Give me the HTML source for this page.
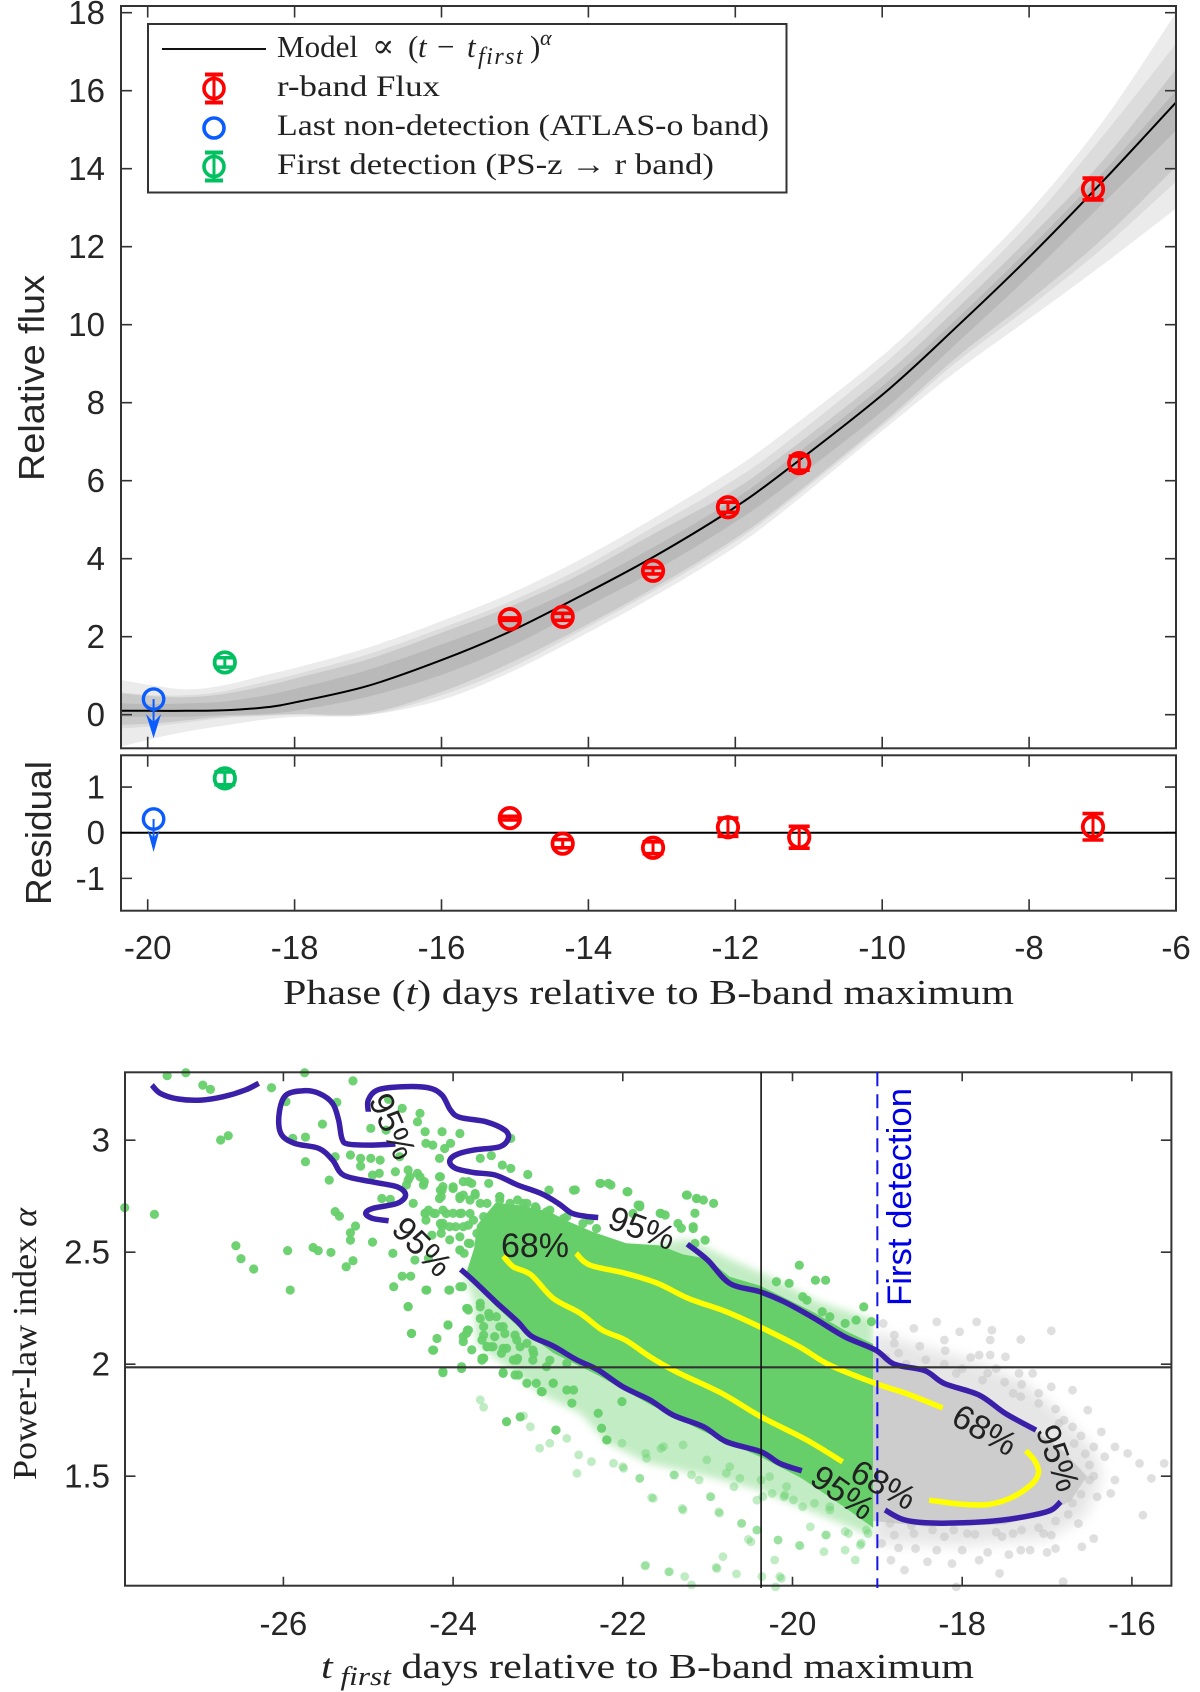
<!DOCTYPE html>
<html lang="en">
<head>
<meta charset="utf-8">
<title>Power-law rise fit of r-band flux</title>
<style>
html,body{margin:0;padding:0;background:#fff}
svg{display:block}
.tick{font-family:"Liberation Sans",sans-serif;font-size:33px;fill:#262626}
.serif{font-family:"Liberation Serif","DejaVu Serif",serif;fill:#222}
.sans{font-family:"Liberation Sans",sans-serif}
.pct{font-family:"Liberation Sans",sans-serif;font-size:34px;fill:#222}
</style>
</head>
<body>
<svg id="fig" xmlns="http://www.w3.org/2000/svg" width="1200" height="1692" viewBox="0 0 1200 1692">
<defs>
<clipPath id="clipTop"><rect x="121" y="6" width="1055" height="742"/></clipPath>
<clipPath id="clipGreen"><rect x="125" y="1072" width="748.5" height="514"/></clipPath>
<clipPath id="clipGray"><rect x="873.5" y="1072" width="298" height="514"/></clipPath>
<filter id="softGreen" x="-20%" y="-20%" width="140%" height="140%"><feGaussianBlur stdDeviation="4"/></filter>
<filter id="softGray" x="-20%" y="-20%" width="140%" height="140%"><feGaussianBlur stdDeviation="7"/></filter>
</defs>

<g id="topBands" clip-path="url(#clipTop)"></g>
<g id="topModel" clip-path="url(#clipTop)"></g>
<g id="topAxes"></g>
<g id="topMarks"></g>
<g id="resAxes"></g>
<g id="resMarks"></g>

<text x="44" y="378" transform="rotate(-90 44 378)" text-anchor="middle" class="sans" font-size="36" fill="#262626" textLength="206" lengthAdjust="spacingAndGlyphs">Relative flux</text>
<text x="51" y="833" transform="rotate(-90 51 833)" text-anchor="middle" class="sans" font-size="36" fill="#262626" textLength="144" lengthAdjust="spacingAndGlyphs">Residual</text>
<text x="283" y="1004" class="serif" font-size="35" textLength="731" lengthAdjust="spacingAndGlyphs">Phase (<tspan font-style="italic">t</tspan>) days relative to B-band maximum</text>

<g>
<rect x="148" y="24" width="638.5" height="168.5" fill="#fff" stroke="#333" stroke-width="2"/>
<line x1="162" y1="49" x2="266" y2="49" stroke="#111" stroke-width="2"/>
<text x="277" y="57" class="serif" font-size="31">Model<tspan x="372" font-size="33">∝</tspan><tspan x="408">(</tspan><tspan x="418" font-style="italic">t</tspan><tspan x="437">−</tspan><tspan x="467" font-style="italic">t</tspan><tspan x="478" font-style="italic" font-size="24" dy="7" letter-spacing="1.5">first</tspan><tspan x="530" dy="-7">)</tspan><tspan x="540" font-style="italic" font-size="22" dy="-12">α</tspan></text>
<g fill="none" stroke="#ff0000">
<circle cx="214" cy="88.5" r="10" stroke-width="3.6"/><path d="M214 74V103" stroke-width="3"/><path d="M205 74.5H223M205 102.5H223" stroke-width="4"/>
</g>
<text x="277" y="96" class="serif" font-size="30" textLength="163" lengthAdjust="spacingAndGlyphs">r-band Flux</text>
<circle cx="214" cy="128" r="10" fill="none" stroke="#0a5cff" stroke-width="3.6"/>
<text x="277" y="135" class="serif" font-size="30" textLength="492" lengthAdjust="spacingAndGlyphs">Last non-detection (ATLAS-o band)</text>
<g fill="none" stroke="#00c060">
<circle cx="214" cy="166.5" r="10" stroke-width="3.6"/><path d="M214 152V181" stroke-width="3"/><path d="M205 152.5H223M205 180.5H223" stroke-width="4"/>
</g>
<text x="277" y="174" class="serif" font-size="30" textLength="437" lengthAdjust="spacingAndGlyphs">First detection (PS-z → r band)</text>
</g>

<g id="fringe"></g>
<g id="dense"></g>
<g id="dots"></g>
<g id="contours"></g>
<g id="lowAxes"></g>

<g>
<text class="pct" text-anchor="middle" transform="translate(382 1131) rotate(66)">95%</text>
<text class="pct" text-anchor="middle" transform="translate(414 1255) rotate(45)">95%</text>
<text class="pct" text-anchor="middle" transform="translate(535 1257)">68%</text>
<text class="pct" text-anchor="middle" transform="translate(638 1239) rotate(20)">95%</text>
<text class="pct" text-anchor="middle" transform="translate(979 1440) rotate(30)">68%</text>
<text class="pct" text-anchor="middle" transform="translate(1047 1462) rotate(70)">95%</text>
<text class="pct" text-anchor="middle" transform="translate(878 1495) rotate(28)">68%</text>
<text class="pct" text-anchor="middle" transform="translate(836 1502) rotate(35)">95%</text>
</g>

<text x="911" y="1197" transform="rotate(-90 911 1197)" text-anchor="middle" class="sans" font-size="34" fill="#0000e6" textLength="218" lengthAdjust="spacingAndGlyphs">First detection</text>
<text x="36" y="1344" transform="rotate(-90 36 1344)" text-anchor="middle" class="serif" font-size="34" textLength="272" lengthAdjust="spacingAndGlyphs">Power-law index <tspan font-style="italic">α</tspan></text>
<text x="321" y="1678" class="serif" font-size="35" textLength="653" lengthAdjust="spacingAndGlyphs"><tspan font-style="italic">t</tspan><tspan font-style="italic" font-size="26" dy="7"> first</tspan><tspan dy="-7"> days relative to B-band maximum</tspan></text>

<script>
var NS = 'http://www.w3.org/2000/svg';

/* ---------- top panel data ---------- */
var phaseTicks = [-20, -18, -16, -14, -12, -10, -8, -6];
var phaseTickLabels = ['-20', '-18', '-16', '-14', '-12', '-10', '-8', '-6'];
var fluxTicks = [0, 2, 4, 6, 8, 10, 12, 14, 16, 18];
var fluxTickLabels = ['0', '2', '4', '6', '8', '10', '12', '14', '16', '18'];
var residualTicks = [-1, 0, 1];
var residualTickLabels = ['-1', '0', '1'];

var modelPhase = [-20.36, -19.9, -19.47, -19, -18.39, -17.93, -17, -16, -15.07, -14.11, -13.11, -12.1, -11.39, -10, -9, -8, -7, -6];
var modelFlux = [0.10, 0.10, 0.10, 0.11, 0.19, 0.34, 0.74, 1.40, 2.13, 3.04, 4.05, 5.20, 6.15, 8.20, 9.92, 11.73, 13.67, 15.70];
var bandLightUpper = [0.89, 0.74, 0.65, 0.74, 1.02, 1.23, 1.72, 2.40, 3.10, 3.98, 5.04, 6.20, 7.15, 9.20, 10.97, 12.90, 15.20, 18.0];
var bandPaleUpper = [0.57, 0.50, 0.50, 0.59, 0.85, 1.06, 1.55, 2.22, 2.90, 3.75, 4.82, 5.92, 6.85, 8.96, 10.70, 12.60, 14.83, 17.2];
var bandMidUpper = [0.55, 0.47, 0.45, 0.52, 0.74, 0.96, 1.42, 2.10, 2.77, 3.60, 4.64, 5.67, 6.60, 8.65, 10.38, 12.22, 14.20, 16.55];
var bandCoreUpper = [0.29, 0.27, 0.29, 0.33, 0.50, 0.69, 1.15, 1.80, 2.47, 3.30, 4.30, 5.42, 6.37, 8.42, 10.12, 11.95, 13.90, 16.0];
var bandCoreLower = [-0.05, -0.05, -0.05, -0.01, 0.02, 0.12, 0.46, 1.02, 1.74, 2.68, 3.68, 4.82, 5.75, 7.78, 9.50, 11.25, 13.10, 14.98];
var bandMidLower = [-0.26, -0.22, -0.14, -0.05, -0.01, 0.02, 0.04, 0.59, 1.32, 2.22, 3.25, 4.40, 5.35, 7.47, 9.14, 10.62, 12.20, 14.05];
var bandPaleLower = [-0.35, -0.29, -0.20, -0.09, -0.03, 0.00, 0.00, 0.50, 1.19, 2.14, 3.17, 4.32, 5.28, 7.40, 9.02, 10.45, 11.96, 13.67];
var bandLightLower = [-0.82, -0.60, -0.43, -0.29, -0.12, -0.05, -0.01, 0.38, 1.08, 2.00, 3.03, 4.18, 5.15, 7.28, 8.79, 10.15, 11.53, 12.98];

var redPhase = [-15.07, -14.35, -13.12, -12.1, -11.13, -7.13];
var redFlux = [2.45, 2.51, 3.69, 5.32, 6.45, 13.48];
var redFluxErr = [0.03, 0.09, 0.08, 0.13, 0.18, 0.28];
var redResidual = [0.32, -0.24, -0.33, 0.12, -0.10, 0.13];
var redResidualErr = [0.04, 0.09, 0.13, 0.20, 0.24, 0.29];
var greenPhase = [-18.95];
var greenFlux = [1.34];
var greenFluxErr = [0.12];
var greenResidual = [1.19];
var greenResidualErr = [0.14];
var bluePhase = [-19.92];
var blueFlux = [0.40];
var blueResidual = [0.30];

/* ---------- bottom panel data ---------- */
var tfirstTicks = [-26, -24, -22, -20, -18, -16];
var tfirstTickLabels = ['-26', '-24', '-22', '-20', '-18', '-16'];
var alphaTicks = [1.5, 2, 2.5, 3];
var alphaTickLabels = ['1.5', '2', '2.5', '3'];
var bestTfirst = [-20.37];
var bestAlpha = [1.986];
var firstDetectionPhase = [-19.0];

var contour95Arc = [[-27.55,3.246],[-27.45,3.209],[-27.24,3.184],[-26.97,3.179],[-26.71,3.194],[-26.45,3.224],[-26.29,3.254]];
var contour95Loop = [[-24.68,2.983],[-24.97,2.978],[-25.24,2.983],[-25.31,3.008],[-25.35,3.090],[-25.42,3.164],[-25.58,3.209],[-25.76,3.221],[-25.97,3.201],[-26.05,3.120],[-26.03,3.030],[-25.87,2.986],[-25.58,2.963],[-25.42,2.911],[-25.29,2.844],[-24.97,2.815],[-24.66,2.792],[-24.56,2.755],[-24.66,2.718],[-24.95,2.695],[-25.03,2.673],[-24.95,2.651],[-24.76,2.640]];
var contour95Upper = [[-25.00,3.127],[-25.00,3.179],[-24.89,3.224],[-24.60,3.239],[-24.29,3.234],[-24.13,3.201],[-24.03,3.134],[-23.92,3.102],[-23.61,3.082],[-23.39,3.045],[-23.35,3.008],[-23.45,2.971],[-23.76,2.956],[-23.97,2.934],[-24.04,2.904],[-23.97,2.874],[-23.76,2.856],[-23.50,2.844],[-23.24,2.800],[-22.97,2.763],[-22.76,2.718],[-22.61,2.676],[-22.45,2.661],[-22.29,2.655]];
var contour95Lower = [[-23.91,2.423],[-23.76,2.373],[-23.50,2.279],[-23.24,2.190],[-23.08,2.126],[-22.82,2.081],[-22.55,2.021],[-22.29,1.974],[-22.00,1.899],[-21.68,1.840],[-21.41,1.773],[-21.05,1.721],[-20.78,1.654],[-20.37,1.609],[-20.15,1.557],[-19.89,1.524]];
var contour95Right = [[-21.24,2.536],[-21.00,2.465],[-20.74,2.361],[-20.38,2.323],[-20.10,2.279],[-19.74,2.204],[-19.38,2.122],[-19.02,2.063],[-18.80,2.000],[-18.44,1.971],[-18.21,1.914],[-17.80,1.862],[-17.49,1.780],[-17.13,1.706]];
var contour95Tip = [[-18.91,1.349],[-18.70,1.307],[-18.43,1.292],[-17.98,1.292],[-17.53,1.304],[-17.17,1.326],[-16.95,1.349],[-16.84,1.386]];
var contour68Lower = [[-23.41,2.483],[-23.29,2.435],[-23.08,2.398],[-22.82,2.294],[-22.50,2.227],[-22.24,2.152],[-21.97,2.108],[-21.68,2.033],[-21.37,1.966],[-20.83,1.869],[-20.37,1.765],[-19.83,1.661],[-19.41,1.564]];
var contour68Upper = [[-22.55,2.495],[-22.39,2.443],[-21.97,2.406],[-21.59,2.361],[-21.23,2.294],[-20.78,2.234],[-20.37,2.164],[-19.92,2.078],[-19.56,1.996],[-19.02,1.914],[-18.66,1.869],[-18.23,1.805]];
var contour68Tip = [[-18.39,1.393],[-17.98,1.374],[-17.67,1.375],[-17.40,1.408],[-17.17,1.468],[-17.10,1.520],[-17.15,1.572],[-17.25,1.614]];

var greenDense = [[-23.85,2.40],[-23.75,2.52],[-23.72,2.62],[-23.50,2.72],[-23.21,2.71],[-22.86,2.68],[-22.66,2.64],[-22.35,2.59],[-21.96,2.54],[-21.56,2.53],[-21.29,2.49],[-21.0,2.47],[-20.74,2.39],[-20.38,2.35],[-19.74,2.23],[-19.38,2.15],[-19.05,2.09],[-19.05,1.27],[-19.38,1.36],[-19.89,1.49],[-20.37,1.585],[-21.05,1.70],[-21.68,1.82],[-22.29,1.95],[-22.82,2.05],[-23.24,2.17],[-23.50,2.26]];
var grayDense = [[-19.05,2.08],[-18.80,2.0],[-18.44,1.97],[-18.21,1.91],[-17.80,1.86],[-17.49,1.78],[-17.13,1.70],[-16.80,1.61],[-16.53,1.50],[-16.72,1.39],[-16.95,1.345],[-17.50,1.285],[-18.40,1.275],[-19.05,1.30]];
var greenFringe = [[-23.9,2.42],[-23.76,2.29],[-23.72,2.09],[-23.41,2.0],[-22.98,1.87],[-22.5,1.78],[-22.19,1.65],[-21.72,1.56],[-21.01,1.50],[-20.42,1.44],[-19.83,1.35],[-19.05,1.23],[-19.05,2.2],[-19.7,2.28],[-20.2,2.38],[-20.74,2.47],[-21.24,2.56],[-22,2.5]];
var grayFringe = [[-19.05,2.15],[-18.5,2.08],[-17.9,2.02],[-17.3,1.93],[-16.9,1.8],[-16.45,1.62],[-16.35,1.5],[-16.55,1.32],[-17,1.22],[-18,1.19],[-19.05,1.2]];

var greenDots = [[-27.37,3.288],[-27.15,3.301],[-26.95,3.246],[-26.86,3.227],[-25.75,3.301],[-25.18,3.265],[-26.14,3.234],[-26.74,3.001],[-26.65,3.02],[-27.87,2.699],[-27.52,2.669],[-26.56,2.529],[-26.5,2.471],[-26.35,2.425],[-25.95,2.507],[-25.92,2.331],[-25.65,2.521],[-25.59,2.507],[-25.44,2.499],[-25.26,2.435],[-25.18,2.462],[-24.95,2.545],[-25.21,2.554],[-25.21,2.587],[-25.15,2.617],[-25.39,2.681],[-25.34,2.661],[-25.46,2.822],[-25.74,2.904],[-25.89,3.008],[-25.74,3.014],[-25.54,3.072],[-25.97,3.172],[-25.37,3.169],[-24.76,3.182],[-24.6,3.142],[-24.39,3.12],[-24.42,3.082],[-24.97,3.053],[-24.79,3.045],[-24.33,3.038],[-24.13,3.038],[-23.92,3.03],[-24.32,2.986],[-24.24,2.978],[-24.1,2.963],[-24.03,2.986],[-24.63,2.926],[-24.16,2.919],[-23.68,2.919],[-23.55,2.931],[-25.21,2.934],[-25.09,2.919],[-24.97,2.919],[-24.86,2.911],[-25.39,2.926],[-25.09,2.884],[-24.68,2.859],[-24.53,2.867],[-24.95,2.844],[-24.87,2.852],[-24.53,2.822],[-24.42,2.852],[-24.34,2.815],[-24.16,2.837],[-24,2.785],[-23.82,2.815],[-23.58,2.807],[-24.13,2.777],[-24.16,2.74],[-23.92,2.748],[-23.42,2.889],[-23.32,2.874],[-23.12,2.847],[-22.87,2.777],[-23.32,3.008],[-24.74,2.736],[-24.84,2.74],[-24.47,2.718],[-24.29,2.688],[-24.08,2.673],[-23.97,2.614],[-24.13,2.614],[-24.32,2.643],[-24.71,2.495],[-24.45,2.465],[-24.6,2.393],[-24.5,2.393],[-24.7,2.346],[-24.32,2.331],[-24.53,2.257],[-24.06,2.175],[-24.49,2.137],[-24.19,2.115],[-24.24,2.063],[-24.12,1.962],[-23.9,1.981],[-24.05,2.331],[-23.89,2.346],[-23.83,2.249],[-23.68,2.204],[-23.83,2.152],[-23.66,2.018],[-23.55,2.078],[-23.39,2.137],[-23.24,2.026],[-22.95,1.877],[-23.37,1.743],[-23.21,1.765],[-22.79,1.706],[-22.26,2.807],[-22.14,2.8],[-21.95,2.77],[-21.24,2.755],[-21.13,2.74],[-21.55,2.673],[-21.82,2.71],[-22.58,2.777],[-22.39,2.643],[-23.45,2.748],[-23.24,2.733],[-23.03,2.703],[-23.76,2.643],[-23.6,2.539],[-23.87,2.495],[-20.19,2.368],[-19.92,2.442],[-19.73,2.375],[-19.61,2.375],[-19.16,2.256],[-19.07,2.19],[-19.38,2.182],[-19.56,2.212],[-19.88,2.301],[-20.04,2.361],[-19.83,2.286],[-19.65,2.234],[-19.25,2.197],[-24.51,2.837],[-24.39,2.837],[-24.55,2.80],[-24.35,2.80],[-24.15,2.837],[-24.12,2.793],[-24.14,2.748],[-24.0,2.785],[-23.88,2.815],[-23.78,2.807],[-23.92,2.74],[-23.74,2.755],[-24.33,2.674],[-24.23,2.674],[-24.12,2.629],[-24.0,2.674],[-23.9,2.674],[-23.82,2.621],[-23.92,2.569],[-23.82,2.54],[-24.14,2.584],[-24.04,2.555],[-24.29,2.473],[-23.92,2.51],[-23.92,2.346],[-24.04,2.331],[-24.31,2.331],[-24.53,2.257],[-24.06,2.175],[-24.49,2.138],[-24.23,2.063],[-23.68,2.718],[-23.45,2.748],[-23.33,2.718],[-23.17,2.718],[-23.02,2.696],[-22.86,2.688],[-22.66,2.659],[-23.64,2.659],[-23.57,2.6],[-23.68,2.272],[-23.82,2.242],[-23.58,2.227],[-23.64,2.168],[-23.49,2.212],[-23.41,2.168],[-23.84,2.138],[-23.66,2.108],[-23.53,2.078],[-23.37,2.071],[-23.25,2.108],[-23.13,2.093],[-23.66,2.026],[-23.29,2.019],[-23.05,2.048],[-22.9,1.989],[-24.12,1.967],[-23.9,1.989],[-23.41,1.959],[-23.27,1.952],[-23.02,1.915],[-22.82,1.915],[-22.58,1.885],[-22.17,2.807],[-22.27,2.807],[-22.56,2.778],[-21.94,2.77],[-21.8,2.703],[-21.56,2.674],[-21.31,2.607],[-21.17,2.614],[-21.25,2.755],[-21.13,2.74],[-21.15,2.674],[-23.88,2.101],[-23.78,2.064],[-23.6,2.079],[-23.43,2.049],[-23.64,2.027],[-23.41,1.963],[-23.23,1.952],[-23.13,1.915],[-22.96,1.878],[-22.82,1.915],[-22.66,1.885],[-22.6,1.826],[-22.25,1.714],[-22.29,1.781],[-22.01,1.833],[-22.19,1.662],[-23.88,2.614],[-23.92,2.673],[-23.8,2.673],[-23.8,2.733],[-23.6,2.718],[-23.45,2.733],[-23.72,2.584],[-23.8,2.539],[-23.92,2.51],[-23.7,2.48],[-24.25,2.576],[-24.15,2.628],[-24.04,2.614],[-24.12,2.688],[-24.21,2.673],[-24.33,2.673],[-23.88,2.755],[-23.74,2.762],[-24.15,2.777],[-24.0,2.792],[-23.13,2.718],[-22.9,2.68],[-22.7,2.65],[-22.47,2.628],[-22.31,2.606],[-21.88,2.673],[-21.8,2.71],[-21.5,2.666],[-21.35,2.628],[-21.17,2.606],[-21.03,2.554],[-21.05,2.733],[-20.93,2.718],[-21.15,2.539],[-23.84,2.249],[-23.68,2.256],[-23.57,2.212],[-23.45,2.167],[-23.27,2.13],[-23.51,2.123],[-23.64,2.13],[-23.88,2.123],[-23.82,2.152],[-23.6,2.078],[-23.41,2.071],[-23.21,2.078],[-23.06,2.063],[-23.64,2.026],[-23.25,2.018],[-23.06,2.018],[-22.86,2.018],[-22.66,2.004]];
var greenFaintDots = [[-23.09,1.721],[-23.37,1.744],[-23.17,1.769],[-23.64,1.808],[-23.68,1.841],[-22.98,1.625],[-22.86,1.647],[-22.78,1.707],[-22.66,1.669],[-22.52,1.595],[-22.54,1.513],[-22.37,1.565],[-22.11,1.558],[-21.99,1.535],[-21.8,1.491],[-22.01,1.647],[-21.72,1.58],[-21.52,1.632],[-21.4,1.506],[-21.19,1.506],[-21.29,1.64],[-21.01,1.573],[-21.64,1.401],[-21.29,1.349],[-20.97,1.409],[-20.86,1.335],[-20.6,1.29],[-20.42,1.26],[-20.52,1.218],[-20.35,1.409],[-20.09,1.416],[-20.17,1.215],[-19.91,1.189],[-19.6,1.238],[-19.38,1.253],[-19.26,1.126],[-19.19,1.201],[-19.13,1.26],[-19.56,1.364],[-19.74,1.379],[-19.99,1.394],[-20.62,1.491],[-20.78,1.513],[-20.27,1.498],[-20.07,1.454],[-21.74,1.099],[-21.45,1.074],[-21.19,1.015],[-20.9,1.093],[-21.27,1.052],[-20.66,1.064],[-20.36,1.052],[-20.15,1.052],[-20.21,1.126],[-20.82,1.141],[-21.8,1.49],[-21.66,1.405],[-21.55,1.624],[-21.3,1.356],[-21.39,1.505],[-20.96,1.408],[-20.87,1.341],[-20.69,1.453],[-20.6,1.289],[-20.42,1.259],[-20.49,1.207],[-20.17,1.215],[-19.92,1.192],[-19.63,1.163],[-19.38,1.17],[-19.2,1.192],[-21.46,1.073],[-21.73,1.103],[-20.89,1.088],[-20.2,1.006],[-20.13,1.044],[-20.42,1.393],[-20.1,1.408],[-19.88,1.364],[-19.56,1.349],[-19.11,1.244],[-19.34,1.244],[-19.79,1.274],[-19.61,1.237],[-22,1.542],[-22.18,1.661],[-21.73,1.602],[-21.1,1.483],[-20.74,1.542],[-20.37,1.483],[-20.24,1.423]];
var grayDots = [[-18.3,2.189],[-17.83,2.189],[-17.65,2.152],[-17.31,2.11],[-16.95,2.149],[-18.03,2.145],[-18.57,2.16],[-18.8,2.13],[-18.21,2.108],[-17.67,2.108],[-18.8,2.093],[-17.8,2.041],[-17.49,2.033],[-17.67,2.041],[-17.17,1.959],[-17.33,1.959],[-17.76,1.929],[-18.07,1.959],[-17.4,1.87],[-17.31,1.855],[-16.95,1.899],[-16.7,1.884],[-17.1,1.825],[-16.52,1.795],[-16.86,1.736],[-16.36,1.698],[-16.68,1.646],[-16.45,1.631],[-16.2,1.631],[-16.05,1.602],[-16.32,1.587],[-15.91,1.557],[-15.62,1.557],[-15.77,1.49],[-16.2,1.483],[-16.5,1.483],[-16.25,1.423],[-16.41,1.408],[-15.87,1.326],[-16.63,1.289],[-17.04,1.244],[-16.95,1.237],[-16.45,1.222],[-16.59,1.185],[-17.4,1.244],[-17.53,1.23],[-17.94,1.244],[-18.21,1.23],[-18.57,1.244],[-18.8,1.237],[-18.55,1.177],[-18.41,1.118],[-18.12,1.11],[-17.8,1.125],[-17.56,1.066],[-18.68,1.081],[-18.84,1.125],[-16.9,1.177],[-16.81,1.029],[-18.07,1.006],[-17.31,1.17],[-18.93,2.182],[-18.66,2.0],[-18.43,2.02],[-18.21,2.0],[-18.0,1.98],[-17.7,1.96],[-17.5,1.92],[-17.3,1.91],[-17.1,1.87],[-17.6,1.98],[-17.9,2.03],[-18.2,2.06],[-18.5,2.08],[-18.75,2.05],[-18.9,2.03],[-16.9,1.8],[-16.8,1.75],[-16.7,1.72],[-16.6,1.68],[-16.55,1.6],[-16.5,1.55],[-16.45,1.5],[-16.6,1.42],[-16.7,1.38],[-16.75,1.33],[-16.9,1.3],[-17.1,1.27],[-17.3,1.26],[-17.6,1.25],[-17.85,1.24],[-18.1,1.26],[-18.35,1.26],[-18.6,1.28],[-18.85,1.29],[-18.95,1.2],[-18.75,1.18],[-18.3,1.17],[-18.0,1.17],[-17.7,1.16],[-17.45,1.15],[-17.2,1.17],[-17.0,1.16]];

/* ---------- axis functions ---------- */
function xPhase(t) { return 1176 + (t + 6) * 73.45; }
function yFlux(f) { return 714.7 - f * 39; }
function yRes(r) { return 832.7 - r * 45.67; }
function xFirst(t) { return 792.5 + (t + 20) * 84.85; }
function yAlpha(a) { return 1364.2 - (a - 2) * 224; }

function make(tag, parent, attrs) {
  var el = document.createElementNS(NS, tag);
  for (var k in attrs) { el.setAttribute(k, attrs[k]); }
  parent.appendChild(el);
  return el;
}
function ptsString(pairs, fx, fy) {
  return pairs.map(function (p) { return fx(p[0]).toFixed(1) + ',' + fy(p[1]).toFixed(1); }).join(' ');
}
function smoothCurve(pairs, fx, fy, start) {
  var p = pairs.map(function (q) { return [fx(q[0]), fy(q[1])]; });
  var d = start + p[0][0].toFixed(1) + ' ' + p[0][1].toFixed(1);
  for (var i = 0; i < p.length - 1; i++) {
    var a = p[Math.max(i - 1, 0)], b = p[i], c = p[i + 1], e = p[Math.min(i + 2, p.length - 1)];
    d += 'C' + (b[0] + (c[0] - a[0]) / 6).toFixed(1) + ' ' + (b[1] + (c[1] - a[1]) / 6).toFixed(1) + ' ' +
         (c[0] - (e[0] - b[0]) / 6).toFixed(1) + ' ' + (c[1] - (e[1] - b[1]) / 6).toFixed(1) + ' ' +
         c[0].toFixed(1) + ' ' + c[1].toFixed(1);
  }
  return d;
}
function smoothPath(pairs, fx, fy) { return smoothCurve(pairs, fx, fy, 'M'); }
function zipXY(xs, ys) { return xs.map(function (x, i) { return [x, ys[i]]; }); }

/* ---------- top panel bands and model ---------- */
var bandsGroup = document.getElementById('topBands');
function drawBand(upper, lower, color, name) {
  var d = smoothCurve(zipXY(modelPhase, upper), xPhase, yFlux, 'M') +
          smoothCurve(zipXY(modelPhase, lower).reverse(), xPhase, yFlux, 'L') + 'Z';
  var el = make('path', bandsGroup, { d: d, fill: color });
  
  
}
drawBand(bandLightUpper, bandLightLower, '#ebebeb', 'model-band-light');
drawBand(bandPaleUpper, bandPaleLower, '#dcdcdc', 'model-band-pale');
drawBand(bandMidUpper, bandMidLower, '#c9c9c9', 'model-band-mid');
drawBand(bandCoreUpper, bandCoreLower, '#b9b9b9', 'model-band-core');

var modelEl = make('path', document.getElementById('topModel'), {
  d: smoothPath(zipXY(modelPhase, modelFlux), xPhase, yFlux), fill: 'none', stroke: '#000', 'stroke-width': 2
});



/* ---------- axes ---------- */
function frame(parent, l, t, r, b, name) {
  var el = make('rect', parent, { x: l, y: t, width: r - l, height: b - t, fill: 'none', stroke: '#333', 'stroke-width': 2 });
  
  
}
function xTicks(parent, values, fx, t, b, len) {
  values.forEach(function (v) {
    var x = fx(v);
    var el = make('path', parent, { d: 'M' + x + ' ' + t + 'v' + len + 'M' + x + ' ' + b + 'v-' + len, stroke: '#333', 'stroke-width': 1.6, fill: 'none' });
    
    
  });
}
function yTicks(parent, values, fy, l, r, len) {
  values.forEach(function (v) {
    var y = fy(v);
    var el = make('path', parent, { d: 'M' + l + ' ' + y + 'h' + len + 'M' + r + ' ' + y + 'h-' + len, stroke: '#333', 'stroke-width': 1.6, fill: 'none' });
    
    
  });
}
function xLabels(parent, values, labels, fx, baseline) {
  values.forEach(function (v, i) {
    var el = make('text', parent, { x: fx(v), y: baseline, 'text-anchor': 'middle', 'class': 'tick' });
    el.textContent = labels[i];
    
    
  });
}
function yLabels(parent, values, labels, fy, right) {
  values.forEach(function (v, i) {
    var el = make('text', parent, { x: right, y: fy(v) + 11.5, 'text-anchor': 'end', 'class': 'tick' });
    el.textContent = labels[i];
    
    
  });
}

var topAxes = document.getElementById('topAxes');
frame(topAxes, 121, 6, 1176, 748.3, 'flux-axes-frame');
xTicks(topAxes, phaseTicks, xPhase, 6, 748.3, 11.5);
yTicks(topAxes, fluxTicks, yFlux, 121, 1176, 11);
yLabels(topAxes, fluxTicks, fluxTickLabels, yFlux, 105);

var resAxes = document.getElementById('resAxes');
frame(resAxes, 121, 755.3, 1176, 910.7, 'residual-axes-frame');
xTicks(resAxes, phaseTicks, xPhase, 755.3, 910.7, 11.5);
yTicks(resAxes, residualTicks, yRes, 121, 1176, 11);
yLabels(resAxes, residualTicks, residualTickLabels, yRes, 105);
xLabels(resAxes, phaseTicks, phaseTickLabels, xPhase, 959);
var zeroLine = make('line', resAxes, { x1: 121, x2: 1176, y1: yRes(0), y2: yRes(0), stroke: '#000', 'stroke-width': 2 });



/* ---------- data points ---------- */
function errorPoint(parent, cx, cy, errPx, color, name) {
  var g = make('g', parent, { fill: 'none', stroke: color });
  
  
  make('circle', g, { cx: cx, cy: cy, r: 10.2, 'stroke-width': 3.8 });
  make('line', g, { x1: cx, x2: cx, y1: cy - errPx, y2: cy + errPx, 'stroke-width': 3 });
  make('path', g, { d: 'M' + (cx - 10.5) + ' ' + (cy - errPx) + 'H' + (cx + 10.5) +
    'M' + (cx - 10.5) + ' ' + (cy + errPx) + 'H' + (cx + 10.5), 'stroke-width': 3.6 });
}
function limitPoint(parent, cx, cy, headTop, tip, half, color, name) {
  var g = make('g', parent, {});
  
  
  make('circle', g, { cx: cx, cy: cy, r: 10.2, fill: 'none', stroke: color, 'stroke-width': 3.4 });
  make('line', g, { x1: cx, x2: cx, y1: cy, y2: cy + headTop + 8, stroke: color, 'stroke-width': 2 });
  make('polygon', g, { fill: color, points: (cx - half) + ',' + (cy + headTop) + ' ' + cx + ',' + (cy + headTop + 8) + ' ' + (cx + half) + ',' + (cy + headTop) + ' ' + cx + ',' + (cy + tip) });
}

var topMarks = document.getElementById('topMarks');
var resMarks = document.getElementById('resMarks');
redPhase.forEach(function (t, i) {
  errorPoint(topMarks, xPhase(t), yFlux(redFlux[i]), redFluxErr[i] * 39, '#ff0000', 'r-band-flux-point');
  errorPoint(resMarks, xPhase(t), yRes(redResidual[i]), redResidualErr[i] * 45.67, '#ff0000', 'r-band-residual-point');
});
greenPhase.forEach(function (t, i) {
  errorPoint(topMarks, xPhase(t), yFlux(greenFlux[i]), greenFluxErr[i] * 39, '#00c060', 'first-detection-flux-point');
  errorPoint(resMarks, xPhase(t), yRes(greenResidual[i]), greenResidualErr[i] * 45.67, '#00c060', 'first-detection-residual-point');
});
bluePhase.forEach(function (t, i) {
  limitPoint(topMarks, xPhase(t), yFlux(blueFlux[i]), 15, 39, 7.5, '#0a5cff', 'non-detection-flux-limit');
  limitPoint(resMarks, xPhase(t), yRes(blueResidual[i]), 11, 33, 6, '#0a5cff', 'non-detection-residual-limit');
});

/* ---------- bottom panel ---------- */
var fringeGroup = document.getElementById('fringe');
var fringeGreen = make('polygon', fringeGroup, { points: ptsString(greenFringe, xFirst, yAlpha), fill: '#8fdc92', 'fill-opacity': 0.55, filter: 'url(#softGreen)', 'clip-path': 'url(#clipGreen)' });


var fringeGray = make('polygon', fringeGroup, { points: ptsString(grayFringe, xFirst, yAlpha), fill: '#dedede', 'fill-opacity': 0.75, filter: 'url(#softGray)', 'clip-path': 'url(#clipGray)' });



var denseGroup = document.getElementById('dense');
var denseGreenEl = make('polygon', denseGroup, { points: ptsString(greenDense, xFirst, yAlpha), fill: '#66cf6a' });


var denseGrayEl = make('polygon', denseGroup, { points: ptsString(grayDense, xFirst, yAlpha), fill: '#cdcdcd' });



var dotsGroup = document.getElementById('dots');
greenFaintDots.forEach(function (p) {
  var el = make('circle', dotsGroup, { cx: xFirst(p[0]), cy: yAlpha(p[1]), r: 4.4, fill: '#62cf68', 'fill-opacity': 0.4 });
  
  
});
greenDots.forEach(function (p) {
  var el = make('circle', dotsGroup, { cx: xFirst(p[0]), cy: yAlpha(p[1]), r: 4.6, fill: '#66cf6a', 'fill-opacity': 0.95 });
  
  
});
grayDots.forEach(function (p) {
  var el = make('circle', dotsGroup, { cx: xFirst(p[0]), cy: yAlpha(p[1]), r: 4.4, fill: '#c4c4c4', 'fill-opacity': 0.55 });
  
  
});

var contourGroup = document.getElementById('contours');
function drawContour(pairs, color, name) {
  var el = make('path', contourGroup, { d: smoothPath(pairs, xFirst, yAlpha), fill: 'none', stroke: color, 'stroke-width': 5.5, 'stroke-linejoin': 'round' });
  
  
}
drawContour(contour95Arc, '#3a20a8', 'contour-95-arc');
drawContour(contour95Loop, '#3a20a8', 'contour-95-loop');
drawContour(contour95Upper, '#3a20a8', 'contour-95-upper');
drawContour(contour95Lower, '#3a20a8', 'contour-95-lower');
drawContour(contour95Right, '#3a20a8', 'contour-95-right');
drawContour(contour95Tip, '#3a20a8', 'contour-95-tip');
drawContour(contour68Lower, '#ffff00', 'contour-68-lower');
drawContour(contour68Upper, '#ffff00', 'contour-68-upper');
drawContour(contour68Tip, '#ffff00', 'contour-68-tip');

var lowAxes = document.getElementById('lowAxes');
frame(lowAxes, 125, 1072.3, 1171.4, 1585.7, 'posterior-axes-frame');
xTicks(lowAxes, tfirstTicks, xFirst, 1072.3, 1585.7, 9);
yTicks(lowAxes, alphaTicks, yAlpha, 125, 1171.4, 10.5);
xLabels(lowAxes, tfirstTicks, tfirstTickLabels, xFirst, 1635);
yLabels(lowAxes, alphaTicks, alphaTickLabels, yAlpha, 110);

bestAlpha.forEach(function (a) {
  var el = make('line', lowAxes, { x1: 125, x2: 1171.4, y1: yAlpha(a), y2: yAlpha(a), stroke: '#333', 'stroke-width': 2.2 });
  
  
});
bestTfirst.forEach(function (t) {
  var el = make('line', lowAxes, { x1: xFirst(t), x2: xFirst(t), y1: 1072.3, y2: 1588, stroke: '#111', 'stroke-width': 1.6 });
  
  
});
firstDetectionPhase.forEach(function (t) {
  var el = make('line', lowAxes, { x1: xFirst(t), x2: xFirst(t), y1: 1072.3, y2: 1588, stroke: '#1414e6', 'stroke-width': 2, 'stroke-dasharray': '14 8' });
  
  
});
</script>
</svg>
</body>
</html>
